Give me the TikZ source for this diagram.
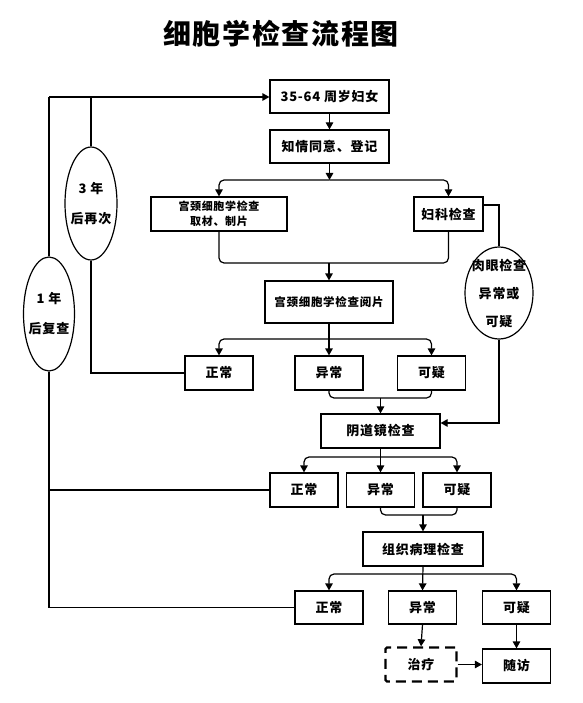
\documentclass[tikz,border=0pt]{standalone}
\usepackage{fontspec}
\setmainfont{Noto Sans CJK SC}[LetterSpace=6]
\usetikzlibrary{arrows.meta,shapes.geometric}
\begin{document}
\begin{tikzpicture}[x=1pt,y=-1pt, line width=1.2pt,
  box/.style={draw, rectangle, inner sep=0pt, align=center, minimum width=68pt, minimum height=34pt, font=\fontsize{13}{16}\selectfont\bfseries},
  dbox/.style={box, line width=2.4pt, dash pattern=on 10pt off 6pt, rounded corners=1.5pt},
  arr/.style={-{Triangle[length=7pt,width=7.5pt]}},
  ell/.style={draw, ellipse, inner sep=0pt},
  elltext/.style={align=center, inner sep=0pt, font=\fontsize{13}{30}\selectfont\bfseries},
  rc/.style={rounded corners=5pt}]
\useasboundingbox (0,0) rectangle (582,703);

\node[font=\fontsize{28}{30}\selectfont\bfseries] (title) at (281,34) {细胞学检查流程图};

\node[box, minimum width=119pt, minimum height=33pt] (b1) at (329.5,96.5) {35-64 周岁妇女};
\node[box, minimum width=119pt, minimum height=33pt] (b2) at (329.5,146.5) {知情同意、登记};
\node[box, minimum width=136pt, minimum height=34pt, font=\fontsize{11}{15}\selectfont\bfseries] (b3) at (219,214) {宫颈细胞学检查\\取材、制片};
\node[box, minimum width=69pt] (b4) at (448.5,214) {妇科检查};
\node[box, minimum width=128pt, minimum height=42pt, font=\fontsize{11.5}{14}\selectfont\bfseries] (b5) at (329,302) {宫颈细胞学检查阅片};

\node[box] (n1) at (219,373) {正常};
\node[box] (a1) at (329,373) {异常};
\node[box] (s1) at (431.5,373) {可疑};

\node[box, minimum width=119pt] (b6) at (380.5,431) {阴道镜检查};

\node[box] (n2) at (304,490) {正常};
\node[box] (a2) at (380.5,490) {异常};
\node[box] (s2) at (457,490) {可疑};

\node[box, minimum width=120pt] (b7) at (423,549) {组织病理检查};

\node[box, minimum height=33pt] (n3) at (329,607.5) {正常};
\node[box, minimum height=33pt] (a3) at (422.5,607.5) {异常};
\node[box, minimum height=33pt] (s3) at (516.5,607.5) {可疑};

\node[dbox, minimum width=71pt, minimum height=34pt] (t) at (421,664.5) {治疗};
\node[box] (f) at (516.5,666) {随访};

% ellipses
\node[ell, minimum width=52pt, minimum height=113pt] (e3) at (91,203.5) {};
\node[elltext] (e3t) at (e3.center) {3 年\\后再次};
\node[ell, minimum width=51pt, minimum height=114pt] (e1) at (49,314) {};
\node[elltext] (e1t) at (e1.center) {1 年\\后复查};
\node[ell, minimum width=68pt, minimum height=92pt] (eR) at (499,293) {};
\node[elltext, font=\fontsize{13}{28}\selectfont\bfseries] (eRt) at (eR.center) {肉眼检查\\异常或\\可疑};

% coordinates
\coordinate (c1) at (329.5,180);
\coordinate (j1) at (329,263);
\coordinate (c3) at (329,339);
\coordinate (j2) at (380.5,398);
\coordinate (c4) at (380.5,457);
\coordinate (j3) at (423,515);
\coordinate (c5) at (423,574);
\coordinate (L) at (49,97);

% main flow
\draw[arr] (b1) -- (b2);
\draw[arr] (b2.south) -- (c1);
\draw[arr, rc] (c1) -| (b3.north);
\draw[arr, rc] (c1) -| (b4.north);
\draw[rc] (b3.south) |- (j1) -| (b4.south);
\draw[arr] (j1) -- (b5.north);

\draw[arr] (b5.south) -- (a1.north);
\draw[arr, rc] (c3) -| (n1.north);
\draw[arr, rc] (c3) -| (s1.north);
\draw[rc] (a1.south) |- (j2) -| (s1.south);
\draw[arr] (j2) -- (b6.north);

\draw[arr] (b6.south) -- (a2.north);
\draw[arr, rc] (c4) -| (n2.north);
\draw[arr, rc] (c4) -| (s2.north);
\draw[rc] (a2.south) |- (j3) -| (s2.south);
\draw[arr] (j3) -- (b7.north);

\draw[arr] (b7.south) -- (a3.north);
\draw[arr, rc] (c5) -| (n3.north);
\draw[arr, rc] (c5) -| (s3.north);

\draw[arr] (a3.south) -- (t.north);
\draw[arr] (s3.south) -- (f.north);
\draw[arr] (t.east) -- (t.east -| f.west);

% right side: gynecologic exam
\draw ([yshift=9pt]b4.east) -| (eR.north);
\draw[arr] (eR.south) |- ([yshift=8pt]b6.east);

% left loops
\draw[arr] (L) -- (b1.west |- L);
\draw (e3.north) -- (e3.north |- L);
\draw (L) -- (e1.north);
\draw (e3.south) |- (n1.west);
\draw (e1.south) |- (n3.west);
\draw (e1.south |- n2.west) -- (n2.west);
\end{tikzpicture}
\end{document}
